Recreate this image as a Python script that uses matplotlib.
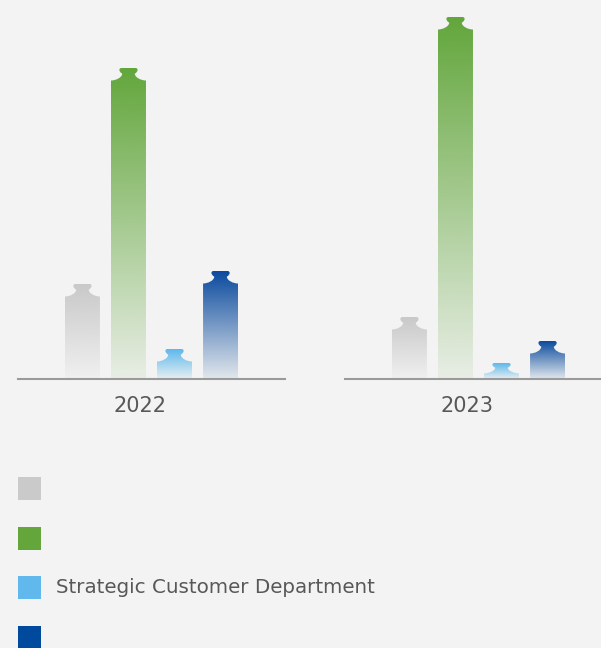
import numpy as np
import matplotlib
matplotlib.use("Agg")
import matplotlib.pyplot as plt
from matplotlib.path import Path
from matplotlib.patches import PathPatch, Rectangle
from matplotlib.colors import to_rgb

# data
years = ["2022", "2023"]
dept_labels = ["", "", "Strategic Customer Department", ""]
values_2022 = [95, 311, 30, 108]
values_2023 = [62, 362, 16, 38]

dept_colors = ["#c9c9c9", "#62a63b", "#5db8ec", "#0a4a9e"]
legend_colors = ["#cacaca", "#64a63b", "#60b8ec", "#004a9d"]
bg = "#f2f3f2"
text_color = "#585858"

W_PX, H_PX = 601, 648
BAR_W = 0.76
CAP = 13.5


def bottle_path(xc, h):
    # bottle-like bar: body + shoulder + neck + lip, cap height fixed in y units
    s = min(1.0, 0.7 * h / CAP)
    def pt(u, d):
        return (xc + u * BAR_W, h - d * s)
    verts = [pt(0, 0), pt(0.2, 0),
             pt(0.26, 0), pt(0.26, 1.8),
             pt(0.26, 4.4), pt(0.18, 5.6),
             pt(0.18, 9.5), pt(0.36, 12.5), pt(0.5, 12.5),
             pt(0.5, 13.5), (xc + 0.5 * BAR_W, 0),
             (xc - 0.5 * BAR_W, 0), pt(-0.5, 13.5),
             pt(-0.5, 12.5),
             pt(-0.36, 12.5), pt(-0.18, 9.5), pt(-0.18, 5.6),
             pt(-0.26, 4.4), pt(-0.26, 1.8),
             pt(-0.26, 0), pt(-0.2, 0),
             pt(0, 0)]
    codes = [Path.MOVETO, Path.LINETO,
             Path.CURVE3, Path.CURVE3,
             Path.CURVE3, Path.CURVE3,
             Path.CURVE4, Path.CURVE4, Path.CURVE4,
             Path.LINETO, Path.LINETO,
             Path.LINETO, Path.LINETO,
             Path.LINETO,
             Path.CURVE4, Path.CURVE4, Path.CURVE4,
             Path.CURVE3, Path.CURVE3,
             Path.CURVE3, Path.CURVE3,
             Path.CLOSEPOLY]
    return Path(verts, codes)


def gradient_bar(ax, xc, h, color):
    rgb = to_rgb(color)
    n = 256
    img = np.zeros((n, 1, 4))
    img[:, 0, :3] = rgb
    img[:, 0, 3] = np.linspace(0.07, 1.0, n)
    patch = PathPatch(bottle_path(xc, h), facecolor="none", edgecolor="none")
    ax.add_patch(patch)
    im = ax.imshow(img, extent=[xc - BAR_W / 2, xc + BAR_W / 2, 0, h],
                   origin="lower", aspect="auto", interpolation="bilinear")
    im.set_clip_path(patch)


fig = plt.figure(figsize=(W_PX / 100, H_PX / 100), dpi=100)
fig.patch.set_facecolor(bg)

baseline_px = 379
group_left_px = [18, 345]
group_w_px = 267

for year, vals, left in zip(years, [values_2022, values_2023], group_left_px):
    ax = fig.add_axes([left / W_PX, (H_PX - baseline_px) / H_PX,
                       group_w_px / W_PX, baseline_px / H_PX])
    ax.set_facecolor("none")
    x = np.arange(len(vals))
    for xi, v, c in zip(x, vals, dept_colors):
        gradient_bar(ax, xi, v, c)
    ax.set_xlim(-1.40, 4.40)
    ax.set_ylim(0, baseline_px)
    for side in ["top", "right", "left"]:
        ax.spines[side].set_visible(False)
    ax.spines["bottom"].set_color("#9a9a9a")
    ax.spines["bottom"].set_linewidth(1.5)
    ax.set_xticks([])
    ax.set_yticks([])
    ax.text(1.25, -27.5, year, ha="center", va="center", fontsize=15,
            color=text_color, clip_on=False)

# legend drawn in pixel coordinates
lax = fig.add_axes([0, 0, 1, 1])
lax.set_xlim(0, W_PX)
lax.set_ylim(H_PX, 0)
lax.axis("off")
lax.patch.set_alpha(0)
row_tops = [477, 527, 576, 626]
for top, c, lab in zip(row_tops, legend_colors, dept_labels):
    lax.add_patch(Rectangle((18, top), 23, 23, facecolor=c, edgecolor="none"))
    if lab:
        lax.text(56, top + 11.5, lab, ha="left", va="center", fontsize=14.3,
                 color=text_color)

fig.savefig("out.png", dpi=100, facecolor=bg)
